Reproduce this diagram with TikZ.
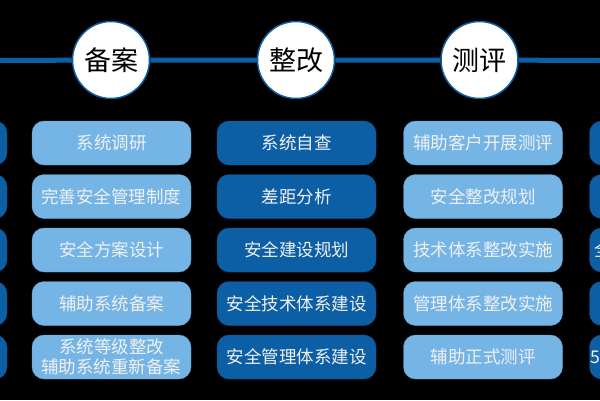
\documentclass[tikz,border=0pt]{standalone}
\usepackage{fontspec}
\setmainfont{Noto Sans CJK SC}
\usetikzlibrary{positioning}
\definecolor{deepblue}{RGB}{12,95,165}
\definecolor{paleblue}{RGB}{116,181,230}
\tikzset{
	stage/.style={circle, draw=deepblue, line width=1.5pt, fill=white, minimum size=77pt, inner sep=0pt, font=\fontsize{27}{27}\selectfont},
	lightbox/.style={rounded corners=12pt, fill=paleblue, draw=paleblue!85!black, minimum width=159pt, minimum height=44pt, inner sep=0pt, text=white!94!black, font=\fontsize{17.5}{20.5}\selectfont, align=center},
	darkbox/.style={lightbox, fill=deepblue, draw=deepblue!85!black}
}

\begin{document}
\begin{tikzpicture}[x=1pt, y=-1pt]
				\fill[black] (0,0) rectangle (600,400);
				\useasboundingbox (0,0) rectangle (600,400);
				\node[shape=coordinate] (west) at (0,60.5) {};
				\node[shape=coordinate] (east) at (600,60.5) {};
				% stages along the line
				\node[stage] (beian) at (111,60) {备案};
				\node[stage] (zhenggai) at (296,60) {整改};
				\node[stage] (ceping) at (479.5,60) {测评};
				\draw[deepblue, line width=5pt] (west) -- (beian) -- (zhenggai) -- (ceping) -- (east);
				% columns
				\foreach \t [count=\i] in {系统调研, 完善安全管理制度, 安全方案设计, 辅助系统备案, {系统等级整改\\辅助系统重新备案}}
					\node[lightbox] (ba\i) at (111.5,{143+53.5*(\i-1)}) {\t};
				\foreach \t [count=\i] in {系统自查, 差距分析, 安全建设规划, 安全技术体系建设, 安全管理体系建设}
					\node[darkbox] (zg\i) at (296.5,{143+53.5*(\i-1)}) {\t};
				\foreach \t [count=\i] in {辅助客户开展测评, 安全整改规划, 技术体系整改实施, 管理体系整改实施, 辅助正式测评}
					\node[lightbox] (cp\i) at (483,{143+53.5*(\i-1)}) {\t};
				% cut off at the edges
				\begin{scope}
					\clip (0,0) rectangle (600,400);
					\foreach \i in {1,...,5} {
						\node[darkbox] (lt\i) at (-72.5,{143+53.5*(\i-1)}) {};
						\node[darkbox] (rt\i) at (669,{143+53.5*(\i-1)}) {};
					}
					\node[anchor=west, inner sep=0pt, text=white!94!black, font=\fontsize{17.5}{20.5}\selectfont] (rtext3) at (594,250) {全};
					\node[anchor=west, inner sep=0pt, text=white!94!black, font=\fontsize{17.5}{20.5}\selectfont] (rtext5) at (590,357) {5};
				\end{scope}
\end{tikzpicture}
\end{document}
